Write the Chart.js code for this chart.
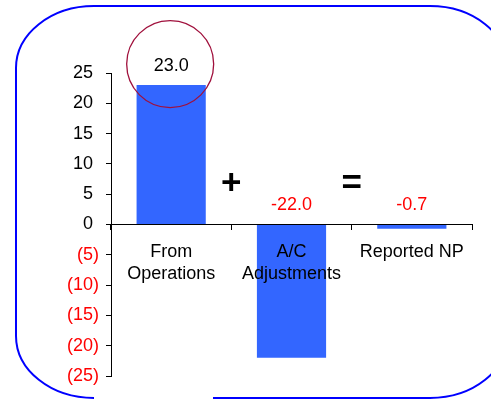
<!DOCTYPE html>
<html>
<head>
<meta charset="utf-8">
<script src="https://cdn.jsdelivr.net/npm/chart.js@4/dist/chart.umd.min.js"></script>
<style>
    html, body { margin: 0; padding: 0; background: #fff; }
</style>
</head>
<body>
<canvas id="bridgeChart" width="491" height="401"></canvas>
<script>
// Net profit bridge data
const categories = [['From', 'Operations'], ['A/C', 'Adjustments'], ['Reported NP']];
const values = [23.0, -22.0, -0.7];
const yTicks = [-25, -20, -15, -10, -5, 0, 5, 10, 15, 20, 25];
const operators = ['+', '='];

const FONT = "'Liberation Sans', Arial, sans-serif";
const BAR_BLUE = '#3366FF';
const NEG_RED = '#FF0000';


// Rounded frame behind the chart (open at the bottom left)
const framePlugin = {
    id: 'frame',
    beforeDraw(chart) {
        const ctx = chart.ctx;
        const L = 16, T = 6, R = 508, B = 398;
        const rx = 78, ry = 62;

        ctx.save();
        ctx.strokeStyle = '#0000FF';
        ctx.lineWidth = 2;
        ctx.beginPath();
        ctx.moveTo(213, B);
        ctx.lineTo(R - rx, B);
        ctx.ellipse(R - rx, B - ry, rx, ry, 0, Math.PI / 2, 0, true);
        ctx.lineTo(R, T + ry);
        ctx.ellipse(R - rx, T + ry, rx, ry, 0, 0, -Math.PI / 2, true);
        ctx.lineTo(L + rx, T);
        ctx.ellipse(L + rx, T + ry, rx, ry, 0, -Math.PI / 2, -Math.PI, true);
        ctx.lineTo(L, B - ry);
        ctx.ellipse(L + rx, B - ry, rx, ry, 0, Math.PI, Math.PI / 2, true);
        ctx.stroke();
        ctx.restore();
    }
};


// Value labels, highlight ring and the + / = signs
const annotatePlugin = {
    id: 'annotate',
    afterDatasetsDraw(chart) {
        const ctx = chart.ctx;
        const xs = chart.scales.x;
        const ys = chart.scales.y;
        const bars = chart.getDatasetMeta(0).data;

        ctx.save();
        ctx.textAlign = 'center';
        ctx.textBaseline = 'middle';
        ctx.font = '18px ' + FONT;

        values.forEach((v, i) => {
            const x = bars[i].x;
            const y = ys.getPixelForValue(Math.max(v, 0)) - 19;
            ctx.fillStyle = v < 0 ? NEG_RED : '#000';
            ctx.fillText(v.toFixed(1), x, y);

            if (i === 0) {
                ctx.strokeStyle = '#A0103C';
                ctx.lineWidth = 1.3;
                ctx.beginPath();
                ctx.arc(x - 1, y - 2, 43.5, 0, Math.PI * 2);
                ctx.stroke();
            }
        });

        ctx.fillStyle = '#000';
        ctx.font = 'bold 35px ' + FONT;
        operators.forEach((op, i) => {
            const x = (xs.getPixelForValue(i) + xs.getPixelForValue(i + 1)) / 2;
            ctx.fillText(op, x, ys.getPixelForValue(6.7));
        });
        ctx.restore();
    }
};


const ctx = document.getElementById('bridgeChart').getContext('2d');

new Chart(ctx, {
    type: 'bar',

    data: {
        labels: categories,

        datasets: [{
            data: values,
            backgroundColor: BAR_BLUE,
            borderWidth: 0,
            categoryPercentage: 1,
            barPercentage: 0.575
        }]
    },

    options: {
        responsive: false,
        animation: false,
        devicePixelRatio: 1,

        layout: {
            padding: { left: 0, top: 73, right: 19, bottom: 25 }
        },

        plugins: {
            legend: { display: false },
            tooltip: { enabled: false }
        },

        scales: {
            x: {
                position: { y: 0 },
                afterFit: (scale) => { scale.height = 0; },
                grid: {
                    offset: true,
                    drawOnChartArea: false,
                    tickLength: 5,
                    color: '#000',
                    z: 1
                },
                border: { color: '#000', z: 1 },
                ticks: {
                    z: 1,  // category names sit on top of the bars
                    color: '#000',
                    padding: 12,
                    maxRotation: 0,
                    autoSkip: false,
                    font: { family: FONT, size: 18, lineHeight: 1.2 }
                }
            },

            y: {
                min: yTicks[0],
                max: yTicks[yTicks.length - 1],
                afterFit: (scale) => { scale.width = 111; },
                afterBuildTicks: (scale) => {
                    scale.ticks = yTicks.map(v => ({ value: v }));
                },
                grid: {
                    drawOnChartArea: false,
                    tickLength: 5,
                    color: '#000'
                },
                border: { color: '#000' },
                ticks: {
                    padding: 7,
                    font: { family: FONT, size: 18 },
                    color: (c) => (c.tick && c.tick.value < 0 ? NEG_RED : '#000'),
                    // accounting style: negatives in brackets
                    callback: (v) => (v < 0 ? '(' + Math.abs(v) + ')' : v + '\u2004')
                }
            }
        }
    },

    plugins: [framePlugin, annotatePlugin]
});
</script>
</body>
</html>
